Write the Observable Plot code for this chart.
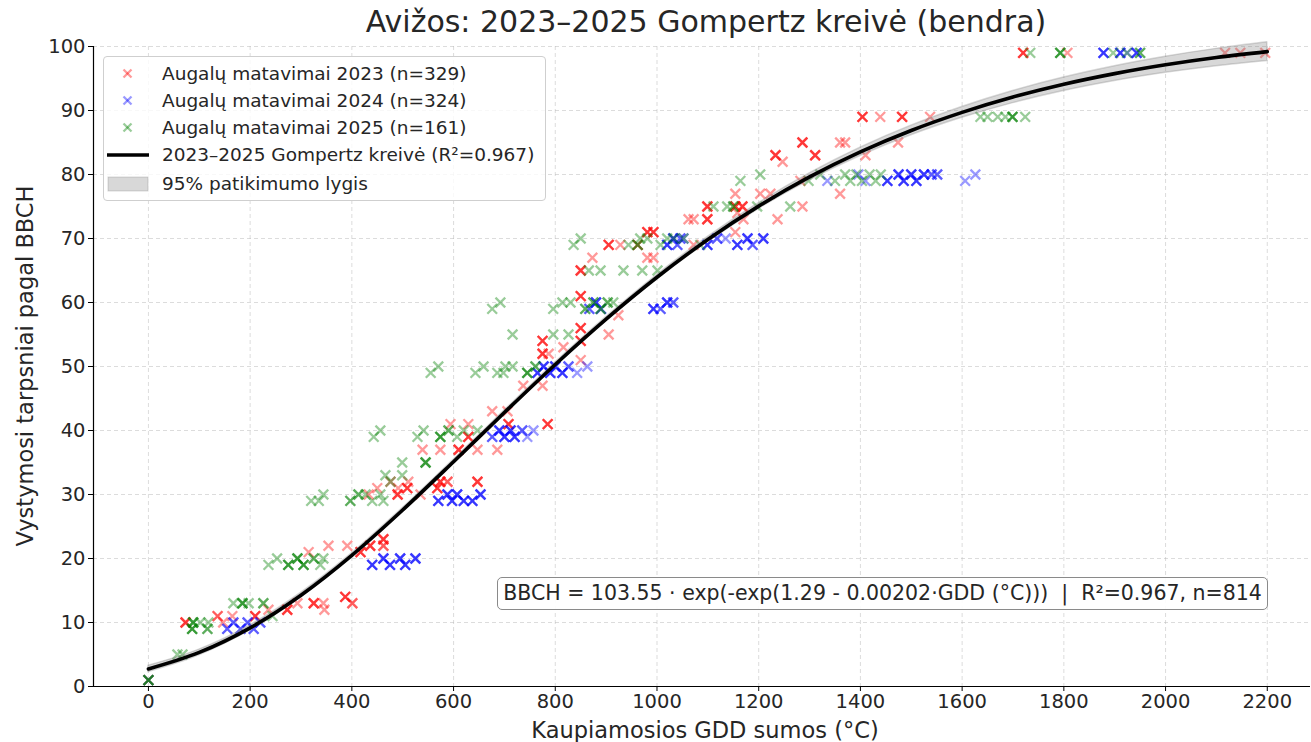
<!DOCTYPE html>
<html>
<head>
<meta charset="utf-8">
<script src="https://cdn.jsdelivr.net/npm/d3@7"></script>
<script src="https://cdn.jsdelivr.net/npm/@observablehq/plot@0.6"></script>
<style>
  html, body { margin: 0; padding: 0; background: #fff; }
  #wrap { position: relative; width: 1311px; height: 742px; font-family: "DejaVu Sans", sans-serif; color: #262626; overflow: hidden; }
  #title { position: absolute; left: 93px; top: 3px; width: 1226px; text-align: center; font-size: 30px; line-height: 38px; white-space: nowrap; }
  #chart { position: absolute; left: 0; top: 38px; }
  .ylab { position: absolute; left: 25px; top: 366px; transform: translate(-50%, -50%) rotate(-90deg); font-size: 22.5px; white-space: nowrap; }
  .xlab { position: absolute; left: 705px; top: 730px; transform: translate(-50%, -50%); font-size: 22.5px; white-space: nowrap; }
  #legend { position: absolute; left: 103px; top: 56px; width: 441px; height: 143px; border: 1px solid #cfcfcf; border-radius: 4px; background: rgba(255,255,255,0.8); font-size: 18.5px; }
  .row { position: absolute; left: 0; height: 26px; line-height: 26px; white-space: nowrap; }
  .row span { position: absolute; left: 58px; top: 0; }
  .row svg { position: absolute; left: 0; top: 0; }
  #eq { position: absolute; left: 497px; top: 577px; width: 769px; height: 31px; border: 1.3px solid #8a8a8a; border-radius: 5px; background: rgba(255,255,255,0.9); font-size: 20.5px; line-height: 31px; text-align: center; white-space: nowrap; }
</style>
</head>
<body>
<div id="wrap">
  <div id="title">Avižos: 2023–2025 Gompertz kreivė (bendra)</div>
  <div id="chart"></div>
  <div class="ylab">Vystymosi tarpsniai pagal BBCH</div>
  <div class="xlab">Kaupiamosios GDD sumos (°C)</div>
  <div id="eq">BBCH = 103.55 · exp(-exp(1.29 - 0.00202·GDD (°C)))&nbsp; | &nbsp;R²=0.967, n=814</div>
  <div id="legend"></div>
</div>
<script>
// ---- Data ----
const gdd2023 = [0,73,136,147,165,210,236,273,293,325,344,346,387,401,315,354,391,417,436,462,462,433,450,476,491,511,490,509,535,568,574,588,647,539,574,594,629,610,629,647,686,708,676,706,737,775,785,775,775,787,816,850,850,850,905,850,924,850,873,905,928,962,981,993,981,993,1062,1072,1072,1099,1099,1154,1170,1154,1158,1154,1168,1237,1203,1223,1233,1247,1286,1282,1286,1311,1360,1370,1360,1404,1410,1439,1474,1482,1537,1720,1807,2117,2147,2196];
const bbch2023 = [1,10,11,10,11,11,12,12,13,13,13,12,14,13,21,22,22,21,22,23,22,30,31,32,31,32,30,31,30,31,32,32,32,37,37,41,41,37,39,37,37,41,43,43,47,47,41,54,52,52,53,51,54,56,55,61,58,65,67,69,69,69,67,67,71,71,73,73,69,75,73,71,73,77,74,75,75,73,77,77,83,82,75,79,85,83,85,85,77,89,83,89,85,89,89,99,99,99,99,99];
const cnt2023 = [1,3,2,1,1,3,1,3,1,3,1,1,3,2,1,1,1,3,3,3,2,1,1,1,1,1,3,3,1,3,3,2,3,1,1,1,1,3,3,1,1,3,1,1,1,1,3,3,3,1,1,1,3,3,1,3,1,3,1,3,1,2,1,1,3,3,1,1,1,3,3,1,1,1,1,3,3,1,1,1,3,1,1,1,3,3,1,1,1,3,1,1,1,3,1,3,1,1,1,1];

const gdd2024 = [0,155,167,181,195,207,220,440,462,475,495,505,525,570,588,597,607,620,637,653,676,690,700,712,720,735,745,757,765,777,790,800,814,826,843,863,867,880,890,993,1007,1020,1032,1020,1032,1040,1046,1052,1099,1118,1135,1158,1178,1188,1209,1335,1396,1410,1453,1475,1485,1500,1510,1525,1540,1551,1606,1626,1878,1911,1925,1943];
const bbch2024 = [1,9,10,9,10,9,10,19,20,19,20,19,20,29,30,29,30,29,29,30,39,40,39,40,39,40,39,40,49,50,49,50,49,50,49,50,59,60,59,59,59,60,60,69,70,69,70,70,69,70,70,69,70,69,70,79,80,79,79,80,79,80,79,80,80,80,79,80,99,99,99,99];
const cnt2024 = [1,2,2,2,2,2,2,3,3,3,3,3,3,3,3,3,3,3,3,3,2,3,3,3,3,2,1,1,3,3,3,3,3,2,1,1,2,3,2,3,2,3,2,3,3,2,2,1,3,2,1,3,3,2,3,1,1,1,3,3,3,3,3,3,2,2,1,1,3,3,1,3];

const gdd2025 = [0,57,67,88,86,102,116,118,167,185,197,226,244,236,253,275,293,305,325,338,344,320,335,344,397,413,427,440,456,462,476,466,499,499,545,443,456,529,541,574,590,607,620,647,555,570,643,659,686,698,702,716,745,761,676,692,796,814,830,716,796,826,859,875,889,903,914,836,850,866,889,934,971,1001,944,962,967,981,1007,1020,1033,1052,1085,1111,1138,1150,1197,1262,1164,1203,1298,1321,1350,1370,1380,1392,1403,1418,1430,1440,1636,1650,1670,1685,1699,1724,1734,1793,1897,1924,1950];
const bbch2025 = [1,5,5,10,9,10,9,10,13,13,13,13,11,19,20,19,20,19,20,19,20,29,29,30,29,30,30,29,30,29,32,33,33,35,35,39,40,39,40,39,40,39,40,40,49,50,49,50,49,49,50,50,49,50,59,60,59,60,60,55,55,55,59,60,59,60,60,69,70,65,65,65,65,65,69,69,70,70,69,70,70,70,69,75,75,75,75,75,79,80,79,80,79,80,79,80,79,80,79,80,89,89,89,89,89,89,99,99,99,99,99];
const cnt2025 = [3,1,1,3,3,1,2,1,1,3,1,2,1,1,1,3,3,3,2,1,1,1,1,1,2,2,1,1,1,1,1,1,1,1,3,1,1,1,1,3,2,1,1,1,1,1,1,1,1,1,1,1,3,2,1,1,1,1,1,1,1,1,2,2,2,2,1,1,1,1,1,1,1,1,1,2,1,1,1,1,1,1,1,1,1,2,1,1,1,1,1,1,1,1,1,1,1,1,1,1,1,1,1,1,3,1,1,3,1,1,2];

// Fitted Gompertz curve, read at every 100 GDD, and half-width of its 95% band
const curveGdd = [0,100,200,300,400,500,600,700,800,900,1000,1100,1200,1300,1400,1500,1600,1700,1800,1900,2000,2100,2200];
const curveBbch = [2.74,5.32,9.16,14.27,20.5,27.58,35.12,42.81,50.32,57.41,63.95,69.85,75.06,79.62,83.54,86.88,89.71,92.1,94.1,95.76,97.14,98.28,99.2];
const bandHalf = [0.5,0.45,0.4,0.35,0.3,0.3,0.3,0.3,0.3,0.3,0.35,0.4,0.45,0.55,0.65,0.75,0.85,0.95,1.05,1.15,1.25,1.35,1.45];

const xTicks = [0,200,400,600,800,1000,1200,1400,1600,1800,2000,2200];
const yTicks = [0,10,20,30,40,50,60,70,80,90,100];

const seriesNames = ["Augalų matavimai 2023 (n=329)", "Augalų matavimai 2024 (n=324)", "Augalų matavimai 2025 (n=161)"];
const seriesColors = ["#ff0000", "#0000ff", "#008000"];
const lineLabel = "2023–2025 Gompertz kreivė (R²=0.967)";
const bandLabel = "95% patikimumo lygis";

// ---- Build tables ----
function expand(g, b, c) {
  const out = [];
  g.forEach((x, i) => { for (let k = 0; k < c[i]; k++) out.push({x, y: b[i]}); });
  return out;
}
const pts2023 = expand(gdd2023, bbch2023, cnt2023);
const pts2024 = expand(gdd2024, bbch2024, cnt2024);
const pts2025 = expand(gdd2025, bbch2025, cnt2025);
const curve = curveGdd.map((x, i) => ({x, y: curveBbch[i], lo: curveBbch[i] - bandHalf[i], hi: curveBbch[i] + bandHalf[i]}));

const xMin = -108, xMax = 2285;
const dotOpts = (color) => ({x: "x", y: "y", symbol: "times", r: 4.5, stroke: color, strokeWidth: 2.3, strokeOpacity: 0.4});

const chart = Plot.plot({
  width: 1311,
  height: 704,
  marginTop: 8,
  marginBottom: 56,
  marginLeft: 93,
  marginRight: 1,
  x: {domain: [xMin, xMax]},
  y: {domain: [0, 100]},
  style: {fontFamily: "DejaVu Sans, sans-serif", fontSize: "19.5px", color: "#262626", background: "transparent", overflow: "visible"},
  marks: [
    Plot.gridX(xTicks, {stroke: "#b8b8b8", strokeOpacity: 0.55, strokeDasharray: "4,3", strokeWidth: 0.9}),
    Plot.gridY(yTicks, {stroke: "#b8b8b8", strokeOpacity: 0.55, strokeDasharray: "4,3", strokeWidth: 0.9}),
    Plot.dot(pts2023, dotOpts(seriesColors[0])),
    Plot.dot(pts2024, dotOpts(seriesColors[1])),
    Plot.dot(pts2025, dotOpts(seriesColors[2])),
    Plot.areaY(curve, {x: "x", y1: "lo", y2: "hi", fill: "#7f7f7f", fillOpacity: 0.3, stroke: "#7f7f7f", strokeOpacity: 0.3, strokeWidth: 1.5, curve: "monotone-x"}),
    Plot.line(curve, {x: "x", y: "y", stroke: "#000", strokeWidth: 3.6, curve: "monotone-x"}),
    Plot.ruleY([0], {stroke: "#000", strokeWidth: 1.2}),
    Plot.ruleX([xMin], {stroke: "#000", strokeWidth: 1.2}),
    Plot.axisX(xTicks, {tickSize: 5, tickPadding: 3, fontSize: 19.5, label: null, stroke: "#000", tickFormat: d3.format("d")}),
    Plot.axisY(yTicks, {tickSize: 5, tickPadding: 3, fontSize: 19.5, label: null, stroke: "#000", tickFormat: d3.format("d")})
  ]
});
document.getElementById("chart").appendChild(chart);

// ---- Legend ----
const legend = document.getElementById("legend");
const rowTops = [4, 31, 58, 85, 114];
function addRow(i, svgInner, label) {
  const row = document.createElement("div");
  row.className = "row";
  row.style.top = rowTops[i] + "px";
  row.innerHTML = `<svg width="56" height="26">${svgInner}</svg><span>${label}</span>`;
  legend.appendChild(row);
}
seriesNames.forEach((name, i) => {
  const c = seriesColors[i];
  addRow(i, `<g stroke="${c}" stroke-opacity="0.4" stroke-width="2.3"><line x1="19.5" y1="8.5" x2="27.5" y2="16.5"/><line x1="27.5" y1="8.5" x2="19.5" y2="16.5"/></g>`, name);
});
addRow(3, `<line x1="3" y1="13" x2="45" y2="13" stroke="#000" stroke-width="3.6"/>`, lineLabel);
addRow(4, `<rect x="4" y="6" width="40" height="14" fill="#7f7f7f" fill-opacity="0.3" stroke="#7f7f7f" stroke-opacity="0.3"/>`, bandLabel);
</script>
</body>
</html>
